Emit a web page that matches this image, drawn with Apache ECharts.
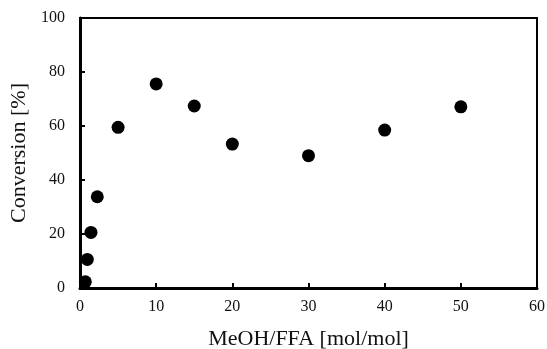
<!DOCTYPE html>
<html>
<head>
<meta charset="utf-8">
<script src="https://cdn.jsdelivr.net/npm/echarts@6/dist/echarts.min.js"></script>
<style>
  html, body { margin: 0; padding: 0; background: #fff; }
  #chart { width: 547px; height: 349px; }
</style>
</head>
<body>
<div id="chart"></div>
<script>
// MeOH/FFA molar ratio vs conversion
const ratios = [0.7, 0.96, 1.44, 2.27, 5, 10, 15, 20, 30, 40, 50];
const conversion = [2.3, 10.6, 20.6, 33.8, 59.5, 75.6, 67.4, 53.3, 49, 58.5, 67.1];

const font = '"Liberation Serif", "Times New Roman", serif';

const chart = echarts.init(document.getElementById("chart"));

chart.setOption({
  animation: false,
  grid: {
    left: 80,
    top: 18,
    right: 10,
    bottom: 61,
    containLabel: false,
    outerBoundsMode: "none",
    show: true,
    borderColor: "#000",
    borderWidth: 2,
  },
  xAxis: {
    type: "value",
    min: 0,
    max: 60,
    interval: 10,
    name: "MeOH/FFA [mol/mol]",
    nameLocation: "middle",
    nameGap: 40,
    nameTextStyle: { fontFamily: font, fontSize: 22, color: "#111" },
    axisLine: { show: true, onZero: false, lineStyle: { color: "#000", width: 3 } },
    axisTick: { show: true, inside: true, length: 5, lineStyle: { color: "#000", width: 2 } },
    axisLabel: { fontFamily: font, fontSize: 16, color: "#111", margin: 11 },
    splitLine: { show: false },
  },
  yAxis: {
    type: "value",
    min: 0,
    max: 100,
    interval: 20,
    name: "Conversion [%]",
    nameLocation: "middle",
    nameGap: 47,
    nameTextStyle: { fontFamily: font, fontSize: 22, color: "#111" },
    axisLine: { show: true, onZero: false, lineStyle: { color: "#000", width: 3 } },
    axisTick: { show: true, inside: true, length: 5, lineStyle: { color: "#000", width: 2 } },
    axisLabel: { fontFamily: font, fontSize: 16, color: "#111", margin: 15 },
    splitLine: { show: false },
  },
  series: [
    {
      type: "scatter",
      data: ratios.map((x, i) => [x, conversion[i]]),
      symbol: "circle",
      symbolSize: 13,
      itemStyle: { color: "#000", opacity: 1 },
    },
  ],
});
</script>
</body>
</html>
